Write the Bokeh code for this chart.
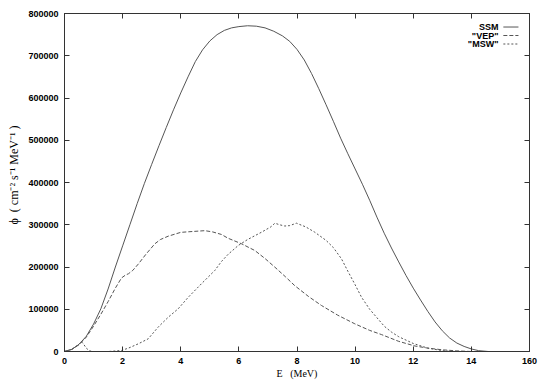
from bokeh.plotting import figure
from bokeh.models import LinearAxis, FixedTicker, Range1d, Label, Arrow, Title
from bokeh.embed import file_html
from bokeh.resources import INLINE

# ---- data ----
ssm_e = [0.0, 0.25, 0.5, 0.75, 1.0, 1.25, 1.5, 1.75, 2.0, 2.25, 2.5, 2.75, 3.0,
         3.25, 3.5, 3.75, 4.0, 4.25, 4.5, 4.75, 5.0, 5.25, 5.5, 5.75, 6.0, 6.3,
         6.6, 6.9, 7.2, 7.5, 7.75, 8.0, 8.25, 8.5, 8.75, 9.0, 9.25, 9.5, 9.75,
         10.0, 10.25, 10.5, 10.75, 11.0, 11.25, 11.5, 11.75, 12.0, 12.25, 12.5,
         12.75, 13.0, 13.25, 13.5, 13.75, 14.0, 14.25, 14.58]
ssm_phi = [0, 5000, 17000, 36000, 65000, 101000, 148000, 200000, 250000, 300000,
           350000, 398000, 443000, 487000, 530000, 572000, 612000, 650000,
           686000, 714000, 735000, 750000, 760000, 766000, 769000, 771000,
           770000, 766000, 758000, 747000, 734000, 715000, 690000, 658000,
           622000, 584000, 545000, 505000, 468000, 432000, 396000, 358000,
           318000, 280000, 245000, 212000, 180000, 150000, 122000, 95000,
           70000, 49000, 32000, 20000, 12000, 6000, 2000, 0]

vep_e = [0.0, 0.25, 0.5, 0.75, 1.0, 1.25, 1.5, 1.75, 1.96, 2.1, 2.2, 2.35, 2.54,
         2.8, 3.11, 3.3, 3.57, 4.0, 4.4, 4.83, 5.1, 5.4, 5.63, 6.09, 6.55, 6.9,
         7.24, 7.6, 7.92, 8.4, 8.84, 9.4, 9.99, 10.5, 10.91, 11.5, 12.06, 12.5,
         13.0, 13.5, 14.0]
vep_phi = [0, 5000, 16000, 34000, 60000, 88000, 118000, 150000, 174000, 181000,
           184000, 192000, 207000, 230000, 255000, 265000, 273000, 282000,
           284000, 286000, 283000, 277000, 268000, 255000, 239000, 220000,
           199500, 177000, 156000, 130000, 109000, 86000, 65500, 50000, 40000,
           24000, 13000, 8000, 4000, 1500, 0]

msw_e = [0.0, 0.25, 0.5, 0.58, 0.65, 0.75, 0.85, 0.95, 1.5, 1.8, 1.96, 2.2, 2.54,
         2.88, 3.22, 3.57, 3.91, 4.26, 4.71, 5.17, 5.4, 5.63, 5.98, 6.3, 6.78,
         7.1, 7.24, 7.4, 7.58, 7.75, 7.98, 8.3, 8.61, 9.0, 9.25, 9.53, 9.75,
         10.0, 10.22, 10.5, 10.75, 11.0, 11.25, 11.5, 12.0, 12.5, 13.0, 13.3]
msw_phi = [0, 5000, 17000, 23000, 18000, 8000, 2000, 0, 0, 1500, 2500, 8000,
           18200, 30000, 57500, 81200, 101000, 128500, 160200, 191700, 213000,
           230000, 251000, 265000, 282400, 295000, 303700, 300000, 297000,
           298000, 303700, 295000, 282400, 263000, 246000, 219400, 190000,
           158000, 128500, 100000, 80000, 60000, 46000, 35000, 19000, 8000,
           2000, 0]

x_ticks = [0, 2, 4, 6, 8, 10, 12, 14, 16]
x_tick_labels = ["0", "2", "4", "6", "8", "10", "12", "14", "160"]
y_ticks = [0, 100000, 200000, 300000, 400000, 500000, 600000, 700000, 800000]
y_tick_labels = ["0", "100000", "200000", "300000", "400000", "500000",
                 "600000", "700000", "800000"]
series_names = ["SSM", '"VEP"', '"MSW"']
x_title = "E \u00a0\u00a0(MeV)"
y_title = "\u03d5 \u00a0( cm\u207b\u00b2 s\u207b\u00b9 MeV\u207b\u00b9 )"

# ---- styling ----
INK = "#333333"
LINE = "#555555"
SANS = "Liberation Sans"
SERIF = "Liberation Serif"

p = figure(frame_width=465, frame_height=338,
           x_range=Range1d(0, 16), y_range=Range1d(0, 800000),
           output_backend="svg", toolbar_location=None,
           min_border_left=63, min_border_right=14,
           min_border_top=13, min_border_bottom=29)
p.xgrid.visible = False
p.ygrid.visible = False
p.outline_line_color = INK
p.outline_line_width = 1
p.background_fill_color = "white"
p.border_fill_color = "white"


def style_axis(ax, ticks, labels=None):
    ax.ticker = FixedTicker(ticks=ticks)
    ax.major_tick_in = 5
    ax.major_tick_out = 0
    ax.minor_tick_in = 0
    ax.minor_tick_out = 0
    ax.axis_line_color = INK
    ax.major_tick_line_color = INK
    if labels is None:
        ax.major_label_text_color = None
        ax.major_label_text_font_size = "1px"
        ax.major_label_standoff = 0
    else:
        ax.major_label_overrides = {t: l for t, l in zip(ticks, labels)}
        ax.major_label_text_font = SANS
        ax.major_label_text_font_size = "9px"
        ax.major_label_text_font_style = "bold"
        ax.major_label_text_color = "black"


style_axis(p.xaxis[0], x_ticks, x_tick_labels)
p.xaxis[0].major_label_standoff = 6
p.xaxis[0].axis_label = x_title
p.xaxis[0].axis_label_text_font = SERIF
p.xaxis[0].axis_label_text_font_size = "10px"
p.xaxis[0].axis_label_text_font_style = "normal"
p.xaxis[0].axis_label_text_color = "black"
p.xaxis[0].axis_label_standoff = 1

style_axis(p.yaxis[0], y_ticks, y_tick_labels)
p.yaxis[0].major_label_standoff = 6

top_axis = LinearAxis()
style_axis(top_axis, x_ticks)
p.add_layout(top_axis, "above")
right_axis = LinearAxis()
style_axis(right_axis, y_ticks)
p.add_layout(right_axis, "right")

# y title: placed as a side title so it can sit above centre like the reference
p.add_layout(Title(text=y_title, align="left", offset=127, text_font=SERIF,
                   text_font_size="12px", text_font_style="normal",
                   text_color="black", standoff=9), "left")

# ---- curves ----
p.line(ssm_e, ssm_phi, line_color=LINE, line_width=1)
p.line(vep_e, vep_phi, line_color=LINE, line_width=1, line_dash="4 2")
p.line(msw_e, msw_phi, line_color=LINE, line_width=1, line_dash="2 2")

# ---- key (label on the left, sample on the right, gnuplot style) ----
key_text_x = 14.93
key_line_x0 = 15.1
key_line_x1 = 15.62
key_rows = [768000, 747900, 727800]
key_dashes = ["solid", "4 2", "2 2"]
for name, ky, dash in zip(series_names, key_rows, key_dashes):
    p.add_layout(Label(x=key_text_x, y=ky, text=name, text_font=SANS,
                       text_font_size="9px", text_font_style="bold",
                       text_align="right", text_baseline="middle",
                       text_color="black"))
    p.add_layout(Arrow(x_start=key_line_x0, y_start=ky, x_end=key_line_x1,
                       y_end=ky, end=None, line_color=LINE, line_width=1,
                       line_dash=dash))

open("out.html", "w").write(file_html(p, INLINE))
